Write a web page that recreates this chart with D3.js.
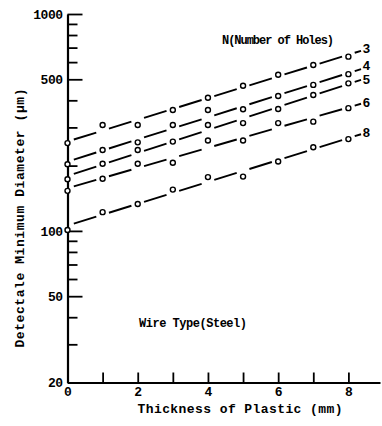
<!DOCTYPE html>
<html>
<head>
<meta charset="utf-8">
<script src="https://cdn.jsdelivr.net/npm/d3@7"></script>
<style>
  body { margin: 0; background: #fff; }
  text { font-family: "Liberation Mono", "DejaVu Sans Mono", monospace; font-weight: bold; fill: #000; }
</style>
</head>
<body>
<svg width="382" height="426"></svg>
<script>
// thickness of plastic (mm)
var thickness = [0, 1, 2, 3, 4, 5, 6, 7, 8];
// number of holes
var holes = ["3", "4", "5", "6", "8"];
// detectable minimum diameter (um), one list per hole count
var n3 = [254, 308, 308, 361, 411, 467, 525, 582, 636];
var n4 = [203, 236, 256, 308, 361, 364, 419, 471, 528];
var n5 = [173, 204, 236, 258, 308, 314, 365, 423, 479];
var n6 = [153, 174, 204, 206, 261, 261, 314, 319, 368];
var n8 = [101, 122, 133, 155, 177, 178, 209, 243, 265];
var yMajor = [20, 50, 100, 500, 1000];
var yMinor = [30, 40, 60, 70, 80, 90, 200, 300, 400, 600, 700, 800, 900];
var xTicks = [0, 1, 2, 3, 4, 5, 6, 7, 8];
var xLabels = [0, 2, 4, 6, 8];

var series = [n3, n4, n5, n6, n8];

var svg = d3.select("svg");

var x = d3.scaleLinear().domain([0, 8.9]).range([67.5, 380]);
var y = d3.scaleLog().domain([20, 1000]).range([382.5, 14]);

// minor ticks on y
svg.append("g")
    .attr("transform", "translate(" + x(0) + ",0)")
    .call(d3.axisLeft(y).tickValues(yMinor).tickSizeInner(-10).tickSizeOuter(0).tickFormat(""))
    .call(function(g) { g.select(".domain").remove(); })
    .selectAll("line").attr("stroke-width", 1.8);

// major ticks + labels on y
var yAx = svg.append("g")
    .attr("transform", "translate(" + x(0) + ",0)")
    .call(d3.axisLeft(y).tickValues(yMajor).tickSizeInner(-15).tickSizeOuter(0).tickPadding(5).tickFormat(d3.format("d")));
yAx.select(".domain").attr("stroke-width", 2.2);
yAx.selectAll("line").attr("stroke-width", 1.8);
yAx.selectAll("text").style("font-size", "13px").attr("letter-spacing", "-0.5px");

// x axis, ticks pointing up
var xAx = svg.append("g")
    .attr("transform", "translate(0," + y(20) + ")")
    .call(d3.axisBottom(x).tickValues(xTicks).tickSizeInner(-10).tickSizeOuter(0).tickPadding(4)
      .tickFormat(function(d) { return xLabels.indexOf(d) >= 0 ? d : ""; }));
xAx.select(".domain").attr("stroke-width", 2.2);
xAx.selectAll("line").attr("stroke-width", 1.8);
xAx.selectAll("text").style("font-size", "13px");

// least squares fit in log space
function fit(vals) {
  var ly = vals.map(function(v) { return Math.log10(v); });
  var mx = d3.mean(thickness), my = d3.mean(ly);
  var sxy = d3.sum(thickness, function(t, i) { return (t - mx) * (ly[i] - my); });
  var sxx = d3.sum(thickness, function(t) { return (t - mx) * (t - mx); });
  var b = sxy / sxx, a = my - b * mx;
  return function(t) { return Math.pow(10, a + b * t); };
}

var gap = 0.18;
var labelY = [];
series.forEach(function(vals, s) {
  var f = fit(vals);
  var g = svg.append("g");
  // dashed fit line, broken at each point
  var segs = d3.pairs(thickness).map(function(p) { return [p[0] + gap, p[1] - gap]; });
  segs.push([8 + gap, 8.36]);
  g.selectAll("line.fit").data(segs).enter().append("line")
      .attr("class", "fit")
      .attr("x1", function(d) { return x(d[0]); })
      .attr("y1", function(d) { return y(f(d[0])); })
      .attr("x2", function(d) { return x(d[1]); })
      .attr("y2", function(d) { return y(f(d[1])); })
      .attr("stroke", "#000").attr("stroke-width", 1.9);
  g.selectAll("circle").data(vals).enter().append("circle")
      .attr("cx", function(d, i) { return x(thickness[i]); })
      .attr("cy", function(d) { return y(d); })
      .attr("r", 2.5)
      .attr("fill", "#fff").attr("stroke", "#000").attr("stroke-width", 1.4);
  labelY.push(y(f(8.5)));
});

// spread series labels so they do not collide
for (var k = 0; k < 3; k++) {
  for (var i = 1; i < labelY.length; i++) {
    var d = labelY[i] - labelY[i - 1];
    if (d < 14) { labelY[i - 1] -= (14 - d) / 2; labelY[i] += (14 - d) / 2; }
  }
}
svg.selectAll("text.nlab").data(holes).enter().append("text")
    .attr("class", "nlab")
    .attr("x", x(8.4))
    .attr("y", function(d, i) { return labelY[i]; })
    .attr("dy", "0.32em")
    .style("font-size", "13px")
    .text(function(d) { return d; });

svg.append("text")
    .attr("x", 222).attr("y", 44)
    .attr("textLength", 112)
    .style("font-size", "12px")
    .text("N(Number of Holes)");

svg.append("text")
    .attr("x", 139).attr("y", 327)
    .attr("textLength", 108)
    .style("font-size", "12px")
    .text("Wire Type(Steel)");

svg.append("text")
    .attr("x", 240).attr("y", 413)
    .attr("text-anchor", "middle")
    .attr("textLength", 205)
    .style("font-size", "13px")
    .text("Thickness of Plastic (mm)");

svg.append("text")
    .attr("transform", "translate(24,218) rotate(-90)")
    .attr("text-anchor", "middle")
    .attr("textLength", 259)
    .style("font-size", "13px")
    .text("Detectale Minimum Diameter (\u03bcm)");
</script>
</body>
</html>
